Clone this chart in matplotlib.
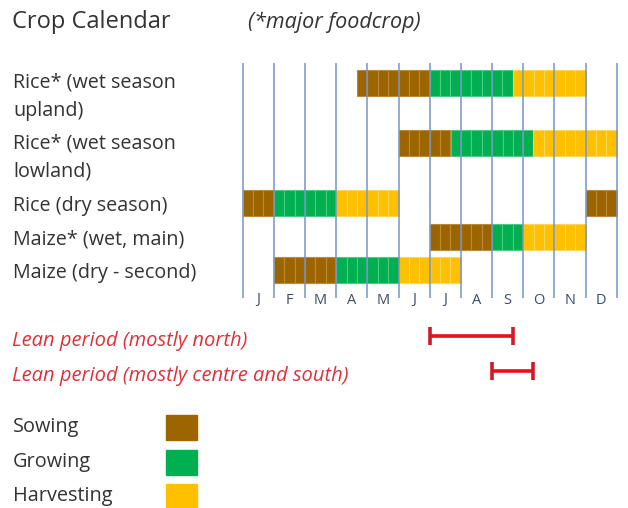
import matplotlib.pyplot as plt
from matplotlib.patches import Rectangle

plt.rcParams['font.family'] = ['Open Sans', 'DejaVu Sans']

months = ['J', 'F', 'M', 'A', 'M', 'J', 'J', 'A', 'S', 'O', 'N', 'D']
crops = ['Rice* (wet season\nupland)', 'Rice* (wet season\nlowland)', 'Rice (dry season)',
         'Maize* (wet, main)', 'Maize (dry - second)']
# (start month, end month, phase) per crop, months counted from Jan = 0
rice_wet_upland = [(3.67, 6.0, 'Sowing'), (6.0, 8.67, 'Growing'), (8.67, 11.0, 'Harvesting')]
rice_wet_lowland = [(5.0, 6.67, 'Sowing'), (6.67, 9.33, 'Growing'), (9.33, 12.0, 'Harvesting')]
rice_dry = [(0.0, 1.0, 'Sowing'), (1.0, 3.0, 'Growing'), (3.0, 5.0, 'Harvesting'), (11.0, 12.0, 'Sowing')]
maize_wet = [(6.0, 8.0, 'Sowing'), (8.0, 9.0, 'Growing'), (9.0, 11.0, 'Harvesting')]
maize_dry = [(1.0, 3.0, 'Sowing'), (3.0, 5.0, 'Growing'), (5.0, 7.0, 'Harvesting')]
segments = [rice_wet_upland, rice_wet_lowland, rice_dry, maize_wet, maize_dry]

lean_labels = ['Lean period (mostly north)', 'Lean period (mostly centre and south)']
lean_start = [6.0, 8.0]
lean_end = [8.67, 9.33]

phases = ['Sowing', 'Growing', 'Harvesting']
colors = {'Sowing': '#9C6500', 'Growing': '#00B050', 'Harvesting': '#FFC000'}
stripe = {'Sowing': '#B98A3A', 'Growing': '#4DCB84', 'Harvesting': '#FFD659'}

W, H = 628, 508
fig = plt.figure(figsize=(W / 100, H / 100), dpi=100)
x0, x1 = 242.7, 616.7
px_per_month = (x1 - x0) / 12
ax = fig.add_axes([0, 0, 1, 1])
ax.set_xlim(-x0 / px_per_month, (W - x0) / px_per_month)
ax.set_ylim(H, 0)
ax.axis('off')

row_y = [83, 143, 202.5, 236.5, 270]
label_y = [83, 143, 206, 240, 273]
bar_h = 26

# bars, split into dekads (3 per month)
for y, segs in zip(row_y, segments):
    for start, end, phase in segs:
        n = round((end - start) * 3)
        lefts = [start + i / 3 for i in range(n)]
        ax.bar(lefts, bar_h, width=1 / 3, bottom=y - bar_h / 2, align='edge',
               color=colors[phase], edgecolor=stripe[phase], linewidth=0.8, zorder=2)

# month grid lines
ax.vlines(range(13), 63, 298, color='#7394C6', linewidth=1.1, zorder=3)
for i, m in enumerate(months):
    ax.text(i + 0.5, 300, m, ha='center', va='center', fontsize=10.5, color='#3B4C6B')

# crop labels
for lab, y in zip(crops, label_y):
    lines = lab.split('\n')
    for k, line in enumerate(lines):
        fig.text(13 / W, 1 - (y + k * 28) / H, line, ha='left', va='center',
                 fontsize=14.2, color='#333333')

fig.text(12 / W, 1 - 22 / H, 'Crop Calendar', ha='left', va='center', fontsize=17, color='#333333')
fig.text(248 / W, 1 - 22 / H, '(*major foodcrop)', ha='left', va='center', fontsize=15.5,
         style='italic', color='#333333')

# lean periods
lean_y = [336, 371]
text_y = [341, 376]
for lab, s, e, ly, ty in zip(lean_labels, lean_start, lean_end, lean_y, text_y):
    ax.hlines(ly, s, e, color='#E8101A', linewidth=2.6, zorder=4)
    ax.vlines([s, e], ly - 9, ly + 9, color='#D01A2A', linewidth=2.6, zorder=4)
    fig.text(12 / W, 1 - ty / H, lab, ha='left', va='center', fontsize=14.5,
             style='italic', color='#E0303A')

# legend
leg_y = [427, 462, 496]
for ph, y in zip(phases, leg_y):
    fig.text(13 / W, 1 - y / H, ph, ha='left', va='center', fontsize=14.3, color='#333333')
    fig.patches.append(Rectangle((166 / W, 1 - (y + 13) / H), 31 / W, 25 / H,
                                 transform=fig.transFigure, color=colors[ph]))

fig.savefig('out.png', dpi=100)
